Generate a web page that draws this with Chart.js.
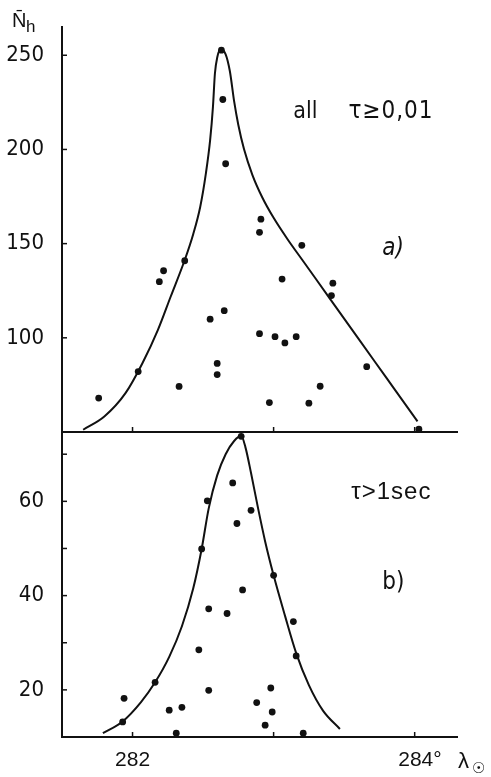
<!DOCTYPE html>
<html>
<head>
<meta charset="utf-8">
<script src="https://cdn.jsdelivr.net/npm/chart.js@4.4.1/dist/chart.umd.min.js"></script>
<style>
    body { margin: 0; background: #fff; }
    #wrap { position: relative; width: 491px; height: 777px; }
    canvas { position: absolute; left: 0; }
    #topChart { top: 0; }
    #bottomChart { top: 425px; }
</style>
</head>
<body>
<div id="wrap">
    <canvas id="topChart" width="491" height="436"></canvas>
    <canvas id="bottomChart" width="491" height="352"></canvas>
</div>
<script>
// a) all meteors, tau >= 0,01
const allX = [281.76, 282.04, 282.19, 282.22, 282.33, 282.37, 282.55, 282.60, 282.60, 282.63,
              282.64, 282.65, 282.66, 282.90, 282.90, 282.91, 282.97, 283.01, 283.06, 283.08,
              283.16, 283.20, 283.25, 283.33, 283.41, 283.42, 283.66, 284.03];
const allY = [68.0, 82.1, 129.8, 135.6, 74.2, 140.9, 109.9, 86.4, 80.5, 252.7,
              226.5, 114.4, 192.4, 102.2, 156.0, 163.0, 65.6, 100.6, 131.2, 97.3,
              100.6, 149.1, 65.3, 74.3, 122.4, 129.0, 84.7, 51.5];
const allCurveX = [281.65, 281.80, 281.95, 282.07, 282.18, 282.27, 282.37, 282.43, 282.48, 282.52,
                   282.55, 282.570, 282.584, 282.601, 282.624, 282.66, 282.69, 282.72, 282.75, 282.79,
                   282.85, 282.92, 283.00, 283.10, 283.20, 283.40, 283.60, 283.80, 284.02];
const allCurveY = [51.2, 58.2, 70.6, 86.5, 104.2, 121.8, 141.3, 155.0, 169.6, 187.3,
                   204.9, 222.6, 240.3, 249.1, 253.0, 250.5, 241.5, 225.6, 213.0, 200.2,
                   186.4, 174.5, 163.7, 152.2, 141.7, 120.7, 99.7, 78.7, 55.6];

// b) tau > 1 sec
const longX = [281.93, 281.94, 282.16, 282.26, 282.31, 282.35, 282.47, 282.49, 282.53, 282.54,
               282.54, 282.67, 282.71, 282.74, 282.77, 282.78, 282.84, 282.88, 282.94, 282.98,
               282.99, 283.00, 283.14, 283.16, 283.21];
const longY = [13.2, 18.2, 21.6, 15.7, 10.8, 16.3, 28.5, 49.9, 60.1, 37.2,
               19.9, 36.2, 63.9, 55.3, 73.8, 41.2, 58.1, 17.3, 12.5, 20.4,
               15.3, 44.3, 34.5, 27.2, 10.8];
const longCurveX = [281.79, 281.93, 282.06, 282.16, 282.26, 282.35, 282.43, 282.49, 282.54, 282.60,
                    282.66, 282.72, 282.77, 282.80, 282.84, 282.89, 282.94, 283.00, 283.08, 283.16,
                    283.25, 283.35, 283.47];
const longCurveY = [10.8, 13.3, 17.4, 21.6, 27.0, 33.5, 41.5, 49.9, 58.5, 65.5,
                    70.0, 72.8, 73.9, 71.5, 66.0, 58.5, 51.5, 44.3, 35.8, 27.8,
                    21.0, 15.6, 11.7];

// ticks
const xTicks = [282, 283, 284];
const xTickLabels = ['282', '', '\u2002284°'];
const topYTicks = [100, 150, 200, 250];
const bottomYTicks = [20, 30, 40, 50, 60, 70];
const bottomYLabels = ['20', '', '40', '', '60', ''];

const INK = '#111';
const narrowFont = '"Liberation Sans Narrow", "DejaVu Sans Condensed", sans-serif';
const plainFont = '"Liberation Sans", Arial, sans-serif';

function toPoints(xs, ys) {
    return xs.map((x, i) => ({ x: x, y: ys[i] }));
}

// short tick marks drawn inside the plot, as in the original figure
const inwardTicks = {
    id: 'inwardTicks',
    afterDraw(chart) {
        const ctx = chart.ctx;
        const a = chart.chartArea;
        const xs = chart.scales.x, ys = chart.scales.y;
        ctx.save();
        ctx.strokeStyle = INK;
        ctx.lineWidth = 1.5;
        xs.ticks.forEach(t => {
            const px = xs.getPixelForValue(t.value);
            ctx.beginPath();
            ctx.moveTo(px, a.bottom);
            ctx.lineTo(px, a.bottom - 5);
            ctx.stroke();
        });
        ys.ticks.forEach(t => {
            const py = ys.getPixelForValue(t.value);
            ctx.beginPath();
            ctx.moveTo(a.left, py);
            ctx.lineTo(a.left + 5, py);
            ctx.stroke();
        });
        ctx.restore();
    }
};

// text notes placed in data coordinates (or canvas pixels for the axis symbols)
const notes = {
    id: 'notes',
    afterDraw(chart, args, opts) {
        const ctx = chart.ctx;
        const xs = chart.scales.x, ys = chart.scales.y;
        ctx.save();
        ctx.fillStyle = INK;
        ctx.textBaseline = 'alphabetic';
        (opts.items || []).forEach(n => {
            ctx.font = n.font;
            ctx.letterSpacing = n.spacing || '0px';
            ctx.textAlign = 'left';
            const px = n.px !== undefined ? n.px : xs.getPixelForValue(n.x);
            const py = n.py !== undefined ? n.py : ys.getPixelForValue(n.y);
            ctx.fillText(n.text, px, py);
        });
        ctx.restore();
    }
};

function makeChart(id, opts) {
    const ctx = document.getElementById(id).getContext('2d');
    return new Chart(ctx, {
        type: 'scatter',
        data: {
            datasets: [{
                data: toPoints(opts.dotsX, opts.dotsY),
                pointRadius: 3.4,
                pointBackgroundColor: INK,
                pointBorderWidth: 0,
                showLine: false,
                clip: false
            }, {
                data: toPoints(opts.curveX, opts.curveY),
                showLine: true,
                pointRadius: 0,
                borderColor: INK,
                borderWidth: 2,
                cubicInterpolationMode: 'monotone',
                clip: false
            }]
        },
        options: {
            responsive: false,
            animation: false,
            events: [],
            layout: { padding: { top: opts.padTop, right: 34, left: 0, bottom: 0 } },
            scales: {
                x: {
                    type: 'linear',
                    min: 281.5,
                    max: 284.3,
                    afterBuildTicks: s => { s.ticks = xTicks.map(v => ({ value: v })); },
                    afterFit: s => { s.height = opts.xHeight; },
                    grid: { drawOnChartArea: false, drawTicks: false },
                    border: { color: INK, width: 2 },
                    ticks: {
                        display: opts.xLabels,
                        padding: 11,
                        color: INK,
                        font: { family: plainFont, size: 21 },
                        callback: v => xTickLabels[xTicks.indexOf(v)]
                    }
                },
                y: {
                    min: opts.yMin,
                    max: opts.yMax,
                    afterBuildTicks: s => { s.ticks = opts.yTicks.map(v => ({ value: v })); },
                    afterFit: s => {
                        s.width = 62;
                        s.paddingTop = 0;
                        s.paddingBottom = 0;
                    },
                    grid: { drawOnChartArea: false, drawTicks: false },
                    border: { color: INK, width: 2 },
                    ticks: {
                        padding: 18,
                        color: INK,
                        font: { family: narrowFont, size: 22 },
                        callback: v => opts.yLabels[opts.yTicks.indexOf(v)]
                    }
                }
            },
            plugins: {
                legend: { display: false },
                tooltip: { enabled: false },
                notes: { items: opts.notes }
            }
        },
        plugins: [inwardTicks, notes]
    });
}

makeChart('topChart', {
    dotsX: allX, dotsY: allY, curveX: allCurveX, curveY: allCurveY,
    yMin: 50, yMax: 265, yTicks: topYTicks, yLabels: topYTicks.map(String),
    padTop: 27, xHeight: 3, xLabels: false,
    notes: [
        { text: 'N\u0304', px: 12, py: 27, font: '20px ' + plainFont },
        { text: 'h', px: 26, py: 32, font: '17px ' + plainFont },
        { text: 'all', x: 283.14, y: 216.6, font: '23px ' + narrowFont },
        { text: 'τ≥0,01', x: 283.53, y: 216.6, font: '24px ' + narrowFont, spacing: '1px' },
        { text: 'a)', x: 283.77, y: 144, font: 'italic 24px ' + narrowFont }
    ]
});

makeChart('bottomChart', {
    dotsX: longX, dotsY: longY, curveX: longCurveX, curveY: longCurveY,
    yMin: 10, yMax: 74.5, yTicks: bottomYTicks, yLabels: bottomYLabels,
    padTop: 8, xHeight: 40, xLabels: true,
    notes: [
        { text: 'τ>1sec', x: 283.55, y: 60.5, font: '24px ' + plainFont, spacing: '1px' },
        { text: 'b)', x: 283.77, y: 41.5, font: '24px ' + narrowFont },
        { text: 'λ', px: 458, py: 343, font: '22px ' + plainFont },
        { text: '☉', px: 472, py: 348, font: '15px "DejaVu Sans", sans-serif' }
    ]
});
</script>
</body>
</html>
